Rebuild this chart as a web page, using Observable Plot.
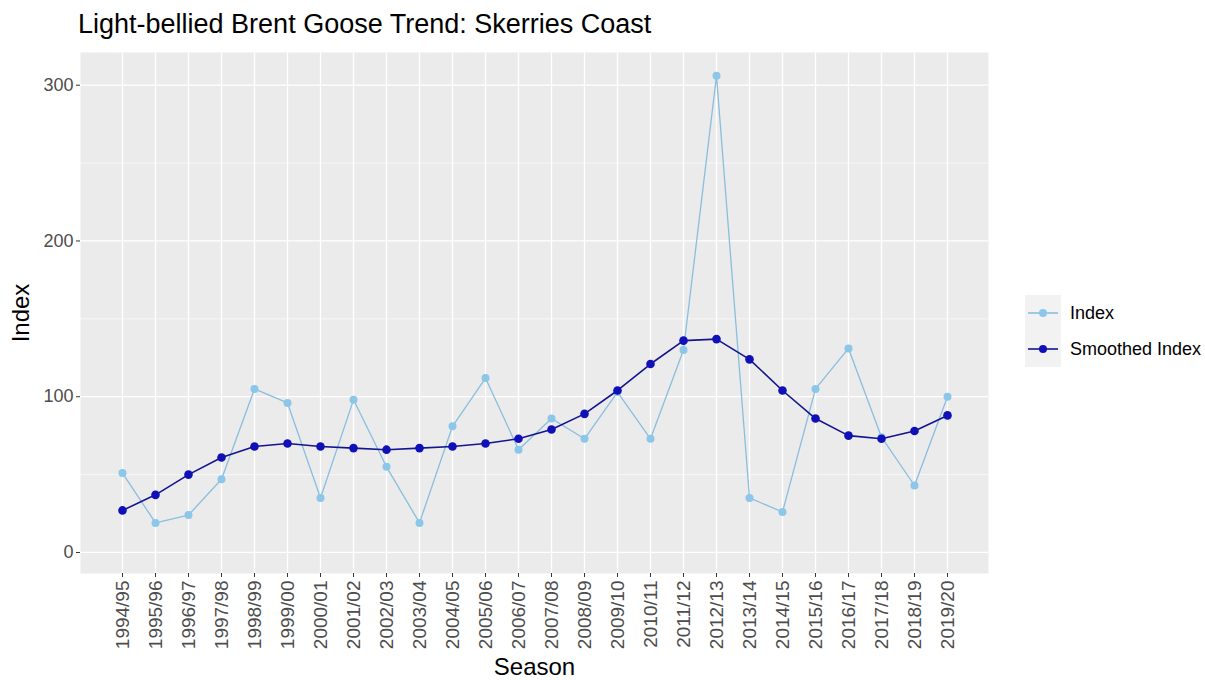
<!DOCTYPE html>
<html>
<head>
<meta charset="utf-8">
<script src="https://cdn.jsdelivr.net/npm/d3@7"></script>
<script src="https://cdn.jsdelivr.net/npm/@observablehq/plot@0.6"></script>
<style>
  body { margin: 0; background: #fff; font-family: "Liberation Sans", Arial, sans-serif; }
  #wrap { position: relative; width: 1205px; height: 680px; overflow: hidden; }
  #title { height: 48px; box-sizing: border-box; padding-left: 78px; padding-top: 8px; font-size: 27px; line-height: 32px; color: #000; white-space: nowrap; }
  #legend { position: absolute; left: 1025px; top: 295px; font-size: 18px; color: #000; }
  .row { display: flex; align-items: center; height: 36px; }
  .row svg { display: block; margin-right: 9px; }
</style>
</head>
<body>
<div id="wrap">
  <div id="title">Light-bellied Brent Goose Trend: Skerries Coast</div>
  <div id="chart"></div>
  <div id="legend"></div>
</div>
<script>
const seasons = ["1994/95","1995/96","1996/97","1997/98","1998/99","1999/00","2000/01","2001/02","2002/03","2003/04","2004/05","2005/06","2006/07","2007/08","2008/09","2009/10","2010/11","2011/12","2012/13","2013/14","2014/15","2015/16","2016/17","2017/18","2018/19","2019/20"];
const indexValues = [51,19,24,47,105,96,35,98,55,19,81,112,66,86,73,103,73,130,306,35,26,105,131,74,43,100];
const smoothedValues = [27,37,50,61,68,70,68,67,66,67,68,70,73,79,89,104,121,136,137,124,104,86,75,73,78,88];
const seriesNames = ["Index", "Smoothed Index"];
const yTicks = [0, 100, 200, 300];
const yMinorTicks = [50, 150, 250];

const lightLine = "#89BEDF", lightDot = "#8CC6E8";
const darkLine = "#14148f", darkDot = "#1010b8";

const idx = seasons.map((s, i) => ({season: s, value: indexValues[i]}));
const sm = seasons.map((s, i) => ({season: s, value: smoothedValues[i]}));

const plot = Plot.plot({
  width: 1205,
  height: 632,
  marginLeft: 80,
  marginRight: 217,
  marginTop: 4,
  marginBottom: 107,
  style: {fontFamily: "Liberation Sans, Arial, sans-serif", background: "transparent", overflow: "visible"},
  x: {type: "point", domain: seasons, padding: 1.2},
  y: {domain: [-13.5, 321]},
  marks: [
    Plot.frame({fill: "#EBEBEB", stroke: null}),
    Plot.gridY(yMinorTicks, {stroke: "#ffffff", strokeOpacity: 1, strokeWidth: 0.6}),
    Plot.gridY(yTicks, {stroke: "#ffffff", strokeOpacity: 1, strokeWidth: 1.3}),
    Plot.gridX(seasons, {stroke: "#ffffff", strokeOpacity: 1, strokeWidth: 1.3}),
    Plot.axisY(yTicks, {tickSize: 4, tickPadding: 3, fontSize: 18, fill: "#4D4D4D", stroke: "#333333", label: null}),
    Plot.axisX({tickRotate: -90, tickSize: 4, tickPadding: 3, fontSize: 19, fill: "#4D4D4D", stroke: "#333333", label: null}),
    Plot.text(["Index"], {frameAnchor: "left", dx: -59, rotate: -90, textAnchor: "middle", lineAnchor: "middle", fontSize: 24, fill: "#000"}),
    Plot.text(["Season"], {frameAnchor: "bottom", dy: 94, textAnchor: "middle", lineAnchor: "middle", fontSize: 24, fill: "#000"}),
    Plot.line(idx, {x: "season", y: "value", stroke: lightLine, strokeWidth: 1.3}),
    Plot.dot(idx, {x: "season", y: "value", fill: lightDot, r: 4}),
    Plot.line(sm, {x: "season", y: "value", stroke: darkLine, strokeWidth: 1.6}),
    Plot.dot(sm, {x: "season", y: "value", fill: darkDot, r: 4.3})
  ]
});
document.getElementById("chart").appendChild(plot);

// legend
const legend = document.getElementById("legend");
const keyStyles = [[lightLine, lightDot], [darkLine, darkDot]];
seriesNames.forEach((name, i) => {
  const row = document.createElement("div");
  row.className = "row";
  const [lc, dc] = keyStyles[i];
  row.innerHTML = `<svg width="36" height="36"><rect x="0" y="0" width="36" height="36" fill="#F2F2F2"/><line x1="3" x2="33" y1="18" y2="18" stroke="${lc}" stroke-width="1.6"/><circle cx="18" cy="18" r="4" fill="${dc}"/></svg><span>${name}</span>`;
  legend.appendChild(row);
});
</script>
</body>
</html>
